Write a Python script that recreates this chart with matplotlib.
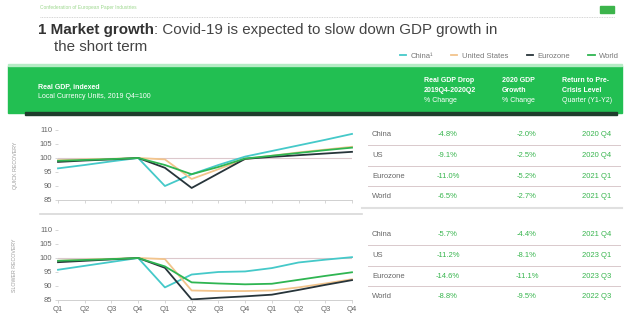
import matplotlib
matplotlib.use("Agg")
import matplotlib.pyplot as plt
from matplotlib.patches import Rectangle

plt.rcParams['font.family'] = ['Liberation Sans', 'DejaVu Sans']

quarters = ['Q1', 'Q2', 'Q3', 'Q4'] * 3
series_names = ['China¹', 'United States', 'Eurozone', 'World']
series_colors = ['#45c9c9', '#f2c48c', '#27343a', '#2fb552']

# quick recovery scenario, indexed 2019 Q4 = 100
china_quick = [96.3, 97.5, 98.8, 100, 90.0, 94.2, 97.5, 100.5, 102.5, 104.5, 106.5, 108.6]
us_quick = [99.2, 99.5, 99.7, 100, 99.5, 92.5, 96.0, 99.6, 100.8, 102.0, 103.0, 104.0]
euro_quick = [98.6, 99.1, 99.5, 100, 96.5, 89.3, 94.5, 99.7, 100.4, 101.0, 101.6, 102.2]
world_quick = [99.0, 99.3, 99.6, 100, 97.5, 94.2, 96.8, 99.8, 100.8, 101.8, 102.8, 103.7]

# slower recovery scenario
china_slow = [95.8, 97.2, 98.6, 100, 89.5, 94.1, 95.0, 95.2, 96.4, 98.4, 99.4, 100.3]
us_slow = [99.0, 99.4, 99.7, 100, 99.6, 88.4, 88.2, 88.2, 88.4, 89.5, 90.9, 92.4]
euro_slow = [98.5, 99.0, 99.5, 100, 96.5, 85.2, 85.8, 86.3, 86.9, 88.6, 90.4, 92.1]
world_slow = [99.0, 99.3, 99.6, 100, 97.0, 91.3, 90.9, 90.6, 90.8, 92.2, 93.6, 94.9]

table_countries = ['China', 'US', 'Eurozone', 'World']
quick_drop = ['-4.8%', '-9.1%', '-11.0%', '-6.5%']
quick_growth = ['-2.0%', '-2.5%', '-5.2%', '-2.7%']
quick_return = ['2020 Q4', '2020 Q4', '2021 Q1', '2021 Q1']
slow_drop = ['-5.7%', '-11.2%', '-14.6%', '-8.8%']
slow_growth = ['-4.4%', '-8.1%', '-11.1%', '-9.5%']
slow_return = ['2021 Q4', '2023 Q1', '2023 Q3', '2022 Q3']

W, H = 630, 324
fig = plt.figure(figsize=(W / 100, H / 100), dpi=100)

# overlay axis in pixel coordinates for decorations and text
ov = fig.add_axes([0, 0, 1, 1])
ov.set_xlim(0, W)
ov.set_ylim(H, 0)
ov.axis('off')

ov.text(40, 8, 'Confederation of European Paper Industries', fontsize=3.5,
        color='#9ed88f', va='center')
ov.plot([40, 615], [17, 17], color='#c8c8c8', lw=0.6, ls=(0, (1, 1)))
ov.add_patch(Rectangle((600, 6), 14, 7, color='#3cb44b'))

t = ov.text(38, 30, '1 Market growth', fontsize=10.9, fontweight='bold',
            color='#333333', va='center')
fig.canvas.draw()
bb = t.get_window_extent(fig.canvas.get_renderer())
ov.text(bb.x1, 30, ': Covid-19 is expected to slow down GDP growth in',
        fontsize=10.9, color='#444444', va='center')
ov.text(54, 47, 'the short term', fontsize=10.9, color='#444444', va='center')

# green header band
ov.add_patch(Rectangle((8, 66), 614, 47, color='#22bf52', zorder=1))
ov.add_patch(Rectangle((25, 112), 592, 2.5, color='#1f3d2c', zorder=1))
ov.add_patch(Rectangle((8, 64), 614, 2, color='#b5ecc5', zorder=1))
ov.text(38, 87, 'Real GDP, indexed', fontsize=5, fontweight='bold', color='white', va='center')
ov.text(38, 97, 'Local Currency Units, 2019 Q4=100', fontsize=5, color='white', va='center')
headers = [(424, ['Real GDP Drop', '2019Q4-2020Q2', '% Change']),
           (502, ['2020 GDP', 'Growth', '% Change']),
           (562, ['Return to Pre-', 'Crisis Level', 'Quarter (Y1-Y2)'])]
for hx, lines in headers:
    for k, s in enumerate(lines):
        ov.text(hx, 80 + 10 * k, s, fontsize=5, color='white', va='center',
                fontweight='bold' if k < 2 else 'normal')

# side labels
ov.text(15, 165, 'QUICK RECOVERY', fontsize=3.8, color='#9a9a9a', rotation=90,
        ha='center', va='center')
ov.text(15, 265, 'SLOWER RECOVERY', fontsize=3.8, color='#9a9a9a', rotation=90,
        ha='center', va='center')
ov.plot([40, 362], [214, 214], color='#d8d8d8', lw=1.2)

# tables
def draw_table(y0, drops, growths, returns):
    for i, c in enumerate(table_countries):
        y = y0 + 20.5 * i
        ov.text(372, y, c, fontsize=5.5, color='#666666', va='center')
        ov.text(448, y, drops[i], fontsize=5.5, color='#38b54e', va='center', ha='center')
        ov.text(527, y, growths[i], fontsize=5.5, color='#38b54e', va='center', ha='center')
        ov.text(597, y, returns[i], fontsize=5.5, color='#38b54e', va='center', ha='center')
        if i < 3:
            ov.plot([368, 620], [y + 10, y + 10], color='#d9c9cc', lw=0.7)

draw_table(135, quick_drop, quick_growth, quick_return)
ov.plot([362, 622], [208, 208], color='#e0e0e0', lw=1.5)
draw_table(235, slow_drop, slow_growth, slow_return)

# line charts
x = list(range(12))


def line_panel(rect, data, show_xlabels):
    ax = fig.add_axes(rect)
    ax.axhline(100, color='#dcc8cc', lw=0.8, zorder=1)
    lines = []
    for vals, name, col in zip(data, series_names, series_colors):
        ln, = ax.plot(x, vals, color=col, lw=1.3, label=name, clip_on=False, zorder=2)
        lines.append(ln)
    ax.set_xlim(0, 11)
    ax.set_ylim(85, 110)
    ax.set_yticks([85, 90, 95, 100, 105, 110])
    ax.set_xticks(x)
    if show_xlabels:
        ax.set_xticklabels(quarters)
    else:
        ax.set_xticklabels([])
    for s in ['top', 'right']:
        ax.spines[s].set_visible(False)
    ax.spines['left'].set_visible(False)
    ax.spines['bottom'].set_color('#d0d0d0')
    ax.spines['bottom'].set_linewidth(0.7)
    ax.tick_params(axis='both', labelsize=5.5, colors='#d0d0d0', labelcolor='#666666',
                   length=2, width=0.6, pad=2)
    ax.patch.set_alpha(0)
    return ax, lines


ax1, handles = line_panel([58 / W, 1 - 200 / H, 294 / W, 70 / H],
                          [china_quick, us_quick, euro_quick, world_quick], False)
ax2, _ = line_panel([58 / W, 1 - 300 / H, 294 / W, 70 / H],
                    [china_slow, us_slow, euro_slow, world_slow], True)

fig.legend(handles=handles, loc='center right', bbox_to_anchor=(626 / W, 1 - 56 / H),
           ncol=4, frameon=False, fontsize=5.5, handlelength=0.8, handletextpad=0.6,
           columnspacing=2.4, labelcolor='#777777')

fig.savefig('out.png', dpi=100)
